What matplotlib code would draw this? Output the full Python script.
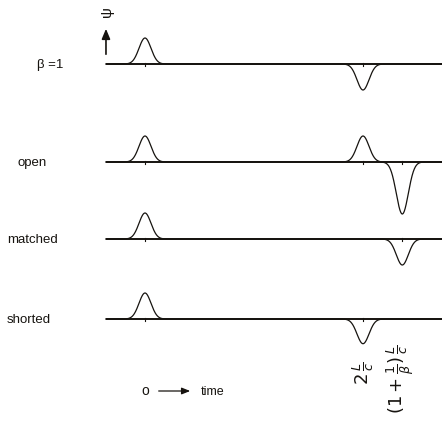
import matplotlib.pyplot as plt
import numpy as np

plt.rcParams['font.family'] = ['Liberation Sans', 'DejaVu Sans']
plt.rcParams['mathtext.fontset'] = 'dejavusans'
ink = '#16130f'
plt.rcParams['text.color'] = ink

# time in units of L/c, amplitude in units of the launched pulse
beta = 0.735
t_reflect = [2.0, 1 + 1 / beta]

rows = ['β =1', 'open', 'matched', 'shorted']
# (time, amplitude) of each pulse on a trace
pulses = {
    'β =1':    [(0.0, 1.0), (2.0, -1.0)],
    'open':    [(0.0, 1.0), (2.0, 1.0), (1 + 1 / beta, -2.0)],
    'matched': [(0.0, 1.0), (1 + 1 / beta, -1.0)],
    'shorted': [(0.0, 1.0), (2.0, -0.95)],
}
width = 0.055

# layout, in pixels from the top
baseline = {'β =1': 64, 'open': 162, 'matched': 239, 'shorted': 319}
label_x = {'β =1': -0.99, 'open': -1.17, 'matched': -1.265, 'shorted': -1.265}
scale = 26.0

fig = plt.figure(figsize=(4.42, 4.24), dpi=100)
ax = fig.add_axes([0, 0, 1, 1])
ax.set_xlim(-145 / 109, 297 / 109)
ax.set_ylim(424, 0)
ax.axis('off')

t = np.linspace(-0.36, 2.73, 2000)
for name in rows:
    y0 = baseline[name]
    ax.plot([t[0], t[-1]], [y0, y0], color=ink, lw=1.4, solid_capstyle='butt')
    v = np.zeros_like(t)
    for tc, a in pulses[name]:
        v += a * np.exp(-0.5 * ((t - tc) / width) ** 2)
        ax.plot([tc, tc], [y0 - 1.5, y0 + 1.5], color=ink, lw=0.8)
    ax.plot(t, y0 - scale * v, color=ink, lw=0.9)
    ax.text(label_x[name], y0 + 1, name, fontsize=9.5, va='center', ha='left')

# vertical axis arrow and symbol
ax.annotate('', xy=(-0.358, 26), xytext=(-0.358, 57),
            arrowprops=dict(arrowstyle='-|>,head_width=0.25,head_length=0.6',
                            color=ink, lw=1.2))
ax.text(-0.35, 12, 'ψ', fontsize=11, rotation=90, ha='center', va='center')

# time direction note
ax.text(0.0, 391, 'o', fontsize=10, ha='center', va='center')
ax.annotate('', xy=(0.44, 391), xytext=(0.1, 391),
            arrowprops=dict(arrowstyle='-|>,head_width=0.2,head_length=0.5',
                            color=ink, lw=0.9))
ax.text(0.51, 392, 'time', fontsize=9, ha='left', va='center')

# reflection times
ax.text(t_reflect[0], 373, r'$2\,\frac{L}{c}$', fontsize=13, rotation=90,
        ha='center', va='center')
ax.text(t_reflect[1] - 0.02, 379, r'$(1+\frac{1}{\beta})\,\frac{L}{c}$', fontsize=13,
        rotation=90, ha='center', va='center')

fig.savefig('out.png', dpi=100)
